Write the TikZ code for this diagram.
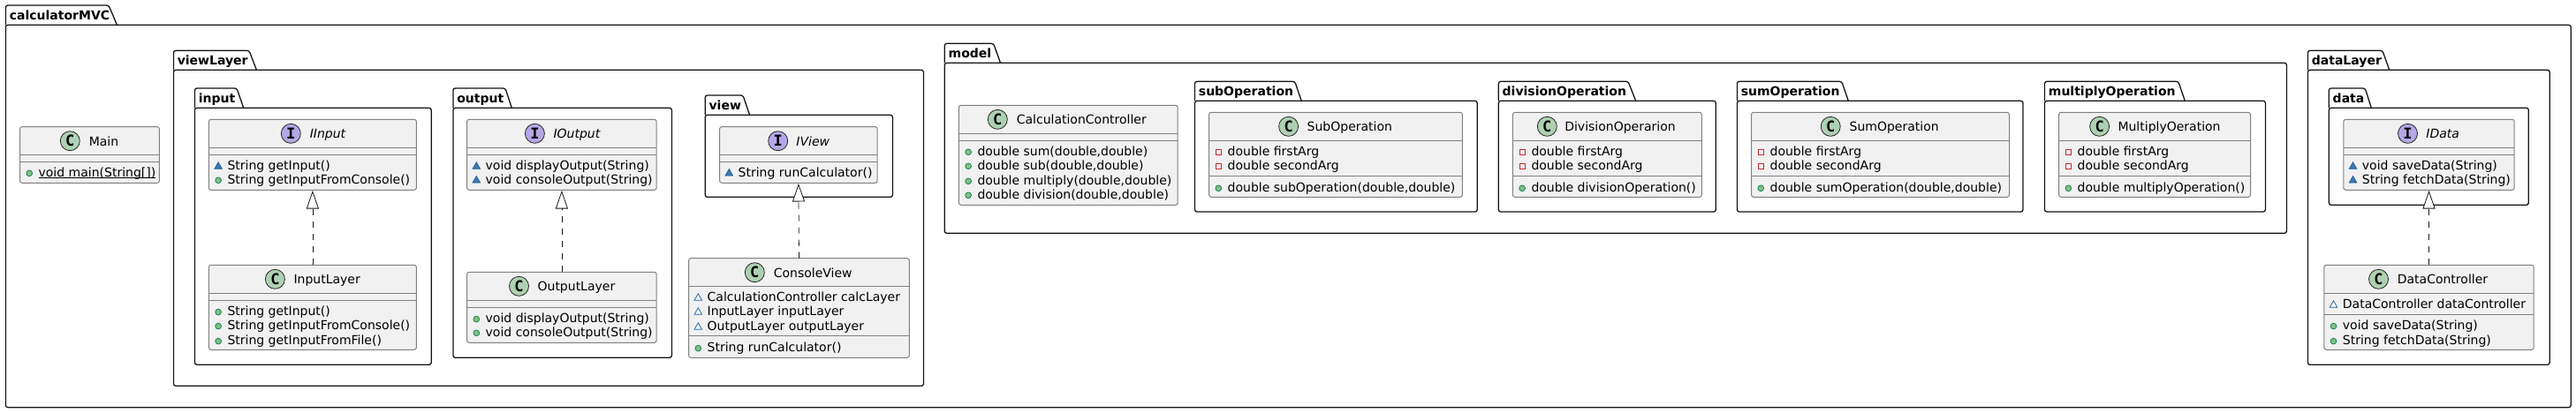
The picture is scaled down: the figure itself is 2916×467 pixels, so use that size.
\documentclass[tikz,border=0pt]{standalone}
\usepackage{fontspec}
\setmainfont{DejaVu Sans}
\newfontfamily\spotfont{DejaVu Sans Mono}
\usetikzlibrary{arrows.meta,shapes.geometric}
\newcounter{rowcnt}

% name, left, top, tab top right, tab bottom right, body top, right, bottom
\newcommand{\umlpackage}[8]{
	\draw[pkgline,rounded corners=1.25pt] (#2,#6) rectangle (#7,#8);
	\draw[pkgline] (#2,#6) [rounded corners=1.25pt] -- (#2,#3) -- (#4,#3) [sharp corners] -- (#5,#6);
	\node[pkglabel] (#1) at (#2+4,#3+16) {#1};
}
% name, left, top, right, bottom, spot x, title x, C or I, title
\newcommand{\umlclass}[9]{
	\pgfmathsetmacro\boxw{(#4-#2)*0.5}
	\pgfmathsetmacro\boxh{(#5-#3)*0.5}
	\node[classbox,minimum width=\boxw pt,minimum height=\boxh pt] (#1) at ({(#2+#4)/2},{(#3+#5)/2}) {};
	\node[spot#8] (#1-spot) at (#6,#3+16) {#8};
	\node[title#8] (#1-title) at (#7,#3+21.3) {#9};
}
% class, y
\newcommand{\umlsep}[2]{
	\draw[classline] (#1.west |- 0,#2) -- (#1.east |- 0,#2);
}
% class, icon style, y, text
\newcommand{\umlrow}[4]{
	\stepcounter{rowcnt}
	\node[#2] (icon\therowcnt) at ([xshift=5.35pt]#1.west |- 0,#3+\csname #2off\endcsname) {};
	\node[rowtext] (row\therowcnt) at ([xshift=10.35pt]#1.west |- 0,#3+5) {#4};
}
% static members: the rule runs close under the baseline
\newcommand{\umlstatic}[1]{\setbox0\hbox{#1}\rlap{\rule[-0.85pt]{\wd0}{0.45pt}}\box0}
\def\pubopoff{1.3}
\def\pkgopoff{1.5}
\def\pkgfoff{1.5}
\def\privfoff{1.3}

\begin{document}
\begin{tikzpicture}[x=0.5pt,y=-0.5pt]
	\tikzstyle{pkgline}=[draw=black!92,line width=0.65pt]
	\tikzstyle{pkglabel}=[anchor=base west,inner sep=0,font=\fontsize{7}{8}\selectfont\bfseries]
	\tikzstyle{classbox}=[draw=black!50,fill=black!5.5,line width=0.5pt,rounded corners=1.25pt,inner sep=0,outer sep=0]
	\tikzstyle{classline}=[draw=black!50,line width=0.5pt]
	\tikzstyle{spotC}=[draw=black!85,fill={rgb,255:red,173;green,209;blue,178},line width=0.4pt,shape=circle,minimum size=11pt,inner sep=0,font=\fontsize{8.5}{9}\selectfont\spotfont\bfseries]
	\tikzstyle{spotI}=[spotC,fill={rgb,255:red,180;green,167;blue,229}]
	\tikzstyle{titleC}=[anchor=base west,inner sep=0,font=\fontsize{7}{8}\selectfont]
	\tikzstyle{titleI}=[titleC,font=\fontsize{7}{8}\selectfont\itshape]
	\tikzstyle{rowtext}=[anchor=base west,inner sep=0,font=\fontsize{7}{8}\selectfont]
	\tikzstyle{pubop}=[shape=circle,draw={rgb,255:red,3;green,128;blue,72},fill={rgb,255:red,132;green,190;blue,132},line width=0.35pt,minimum size=3.4pt,inner sep=0]
	\tikzstyle{pkgop}=[shape=regular polygon,regular polygon sides=3,draw={rgb,255:red,25;green,99;blue,160},fill={rgb,255:red,65;green,119;blue,175},line width=0.35pt,minimum size=5pt,inner sep=0]
	\tikzstyle{pkgf}=[pkgop,fill=none]
	\tikzstyle{privf}=[shape=rectangle,draw={rgb,255:red,200;green,41;blue,48},line width=0.35pt,minimum size=3.2pt,inner sep=0]
	\tikzstyle{impl}=[draw=black!90,line width=0.4pt,dash pattern=on 3.5pt off 3.5pt,shorten >=0.3pt,-{Triangle[open,length=10.3pt,width=7pt,fill=white]}]

	\useasboundingbox (0,0) rectangle (2916,467);

	\umlpackage{calculatorMVC}{6.4}{6}{123}{132.5}{28.3}{2910.2}{461.7}
	\umlpackage{viewLayer}{196.4}{57.3}{282}{290.4}{79.3}{1045.4}{437.3}
	\umlpackage{input}{220.4}{100}{268}{275.7}{122.3}{488.2}{413.3}
	\umlpackage{output}{512.9}{100}{572}{579.3}{122.3}{760.4}{405.3}
	\umlpackage{view}{798.2}{108}{841}{848.6}{130.3}{1010.4}{223.3}
	\umlpackage{model}{1069.3}{49.3}{1124.6}{1132.5}{71.3}{2588.4}{264.3}
	\umlpackage{subOperation}{1352.5}{92.3}{1465.7}{1473.2}{114.3}{1672.2}{240}
	\umlpackage{divisionOperation}{1696.3}{92.3}{1843}{1851.7}{114.3}{1942.3}{240}
	\umlpackage{sumOperation}{1966.4}{92.3}{2084.7}{2092.3}{114.3}{2290}{240}
	\umlpackage{multiplyOperation}{2314.5}{92.3}{2465.8}{2473.3}{114.3}{2564.4}{240}
	\umlpackage{dataLayer}{2612.4}{57.3}{2696.9}{2704.7}{79.3}{2886.2}{413.3}
	\umlpackage{data}{2636.3}{100}{2677.2}{2684.3}{122.3}{2862.3}{232.3}

	\umlclass{Main}{22.5}{143.7}{180.4}{207.3}{79.3}{100.4}{C}{Main}
	\umlsep{Main}{175.3}
	\umlsep{Main}{183.3}
	\umlrow{Main}{pubop}{195}{\umlstatic{void main(String[])}}

	\umlclass{IInput}{236.4}{135.3}{471.4}{215.3}{329.3}{350.4}{I}{IInput}
	\umlsep{IInput}{167.3}
	\umlsep{IInput}{175.3}
	\umlrow{IInput}{pkgop}{187.3}{String getInput()}
	\umlrow{IInput}{pubop}{203}{String getInputFromConsole()}

	\umlclass{InputLayer}{236.4}{300.3}{471.4}{396.3}{311.4}{332.1}{C}{InputLayer}
	\umlsep{InputLayer}{332.3}
	\umlsep{InputLayer}{340.3}
	\umlrow{InputLayer}{pubop}{352.3}{String getInput()}
	\umlrow{InputLayer}{pubop}{368.3}{String getInputFromConsole()}
	\umlrow{InputLayer}{pubop}{385.3}{String getInputFromFile()}

	\umlclass{IOutput}{528.6}{135.3}{743.2}{215.3}{605.4}{626.1}{I}{IOutput}
	\umlsep{IOutput}{167.3}
	\umlsep{IOutput}{175.3}
	\umlrow{IOutput}{pkgop}{187.3}{void displayOutput(String)}
	\umlrow{IOutput}{pkgop}{203}{void consoleOutput(String)}

	\umlclass{OutputLayer}{528.6}{308.3}{743.2}{388.3}{587.5}{608.2}{C}{OutputLayer}
	\umlsep{OutputLayer}{340.3}
	\umlsep{OutputLayer}{348.3}
	\umlrow{OutputLayer}{pubop}{360.3}{void displayOutput(String)}
	\umlrow{OutputLayer}{pubop}{376}{void consoleOutput(String)}

	\umlclass{IView}{814.6}{143.7}{993.2}{207.3}{880.7}{901}{I}{IView}
	\umlsep{IView}{175.3}
	\umlsep{IView}{183.3}
	\umlrow{IView}{pkgop}{195}{String runCalculator()}

	\umlclass{ConsoleView}{779.6}{292.7}{1029.3}{405.3}{854.3}{875.4}{C}{ConsoleView}
	\umlsep{ConsoleView}{324.3}
	\umlsep{ConsoleView}{380.3}
	\umlrow{ConsoleView}{pkgf}{336.3}{CalculationController calcLayer}
	\umlrow{ConsoleView}{pkgf}{352.3}{InputLayer inputLayer}
	\umlrow{ConsoleView}{pkgf}{369.3}{OutputLayer outputLayer}
	\umlrow{ConsoleView}{pubop}{393.3}{String runCalculator()}

	\umlclass{CalculationController}{1085.4}{119.3}{1333.2}{232.3}{1129.3}{1150.4}{C}{CalculationController}
	\umlsep{CalculationController}{151.7}
	\umlsep{CalculationController}{159.7}
	\umlrow{CalculationController}{pubop}{171}{double sum(double,double)}
	\umlrow{CalculationController}{pubop}{187}{double sub(double,double)}
	\umlrow{CalculationController}{pubop}{204}{double multiply(double,double)}
	\umlrow{CalculationController}{pubop}{220}{double division(double,double)}

	\umlclass{SubOperation}{1368.6}{127.3}{1655.3}{223.3}{1458.6}{1479.3}{C}{SubOperation}
	\umlsep{SubOperation}{159.7}
	\umlsep{SubOperation}{199.7}
	\umlrow{SubOperation}{privf}{171}{double firstArg}
	\umlrow{SubOperation}{privf}{187}{double secondArg}
	\umlrow{SubOperation}{pubop}{212}{double subOperation(double,double)}

	\umlclass{DivisionOperarion}{1712.4}{127.3}{1926.3}{223.3}{1751.3}{1770.9}{C}{DivisionOperarion}
	\umlsep{DivisionOperarion}{159.7}
	\umlsep{DivisionOperarion}{199.7}
	\umlrow{DivisionOperarion}{privf}{171}{double firstArg}
	\umlrow{DivisionOperarion}{privf}{187}{double secondArg}
	\umlrow{DivisionOperarion}{pubop}{212}{double divisionOperation()}

	\umlclass{SumOperation}{1982.5}{127.3}{2274.5}{223.3}{2072.2}{2093.2}{C}{SumOperation}
	\umlsep{SumOperation}{159.7}
	\umlsep{SumOperation}{199.7}
	\umlrow{SumOperation}{privf}{171}{double firstArg}
	\umlrow{SumOperation}{privf}{187}{double secondArg}
	\umlrow{SumOperation}{pubop}{212}{double sumOperation(double,double)}

	\umlclass{MultiplyOeration}{2330.6}{127.3}{2547.5}{223.3}{2376.6}{2397.1}{C}{MultiplyOeration}
	\umlsep{MultiplyOeration}{159.7}
	\umlsep{MultiplyOeration}{199.7}
	\umlrow{MultiplyOeration}{privf}{171}{double firstArg}
	\umlrow{MultiplyOeration}{privf}{187}{double secondArg}
	\umlrow{MultiplyOeration}{pubop}{212}{double multiplyOperation()}

	\umlclass{IData}{2652.8}{135.3}{2846.2}{215.3}{2725.5}{2746}{I}{IData}
	\umlsep{IData}{167.3}
	\umlsep{IData}{175.3}
	\umlrow{IData}{pkgop}{187.3}{void saveData(String)}
	\umlrow{IData}{pkgop}{203}{String fetchData(String)}

	\umlclass{DataController}{2630.8}{300.3}{2868.2}{396.3}{2692.5}{2713.4}{C}{DataController}
	\umlsep{DataController}{332.3}
	\umlsep{DataController}{356.3}
	\umlrow{DataController}{pkgf}{344.3}{DataController dataController}
	\umlrow{DataController}{pubop}{368.3}{void saveData(String)}
	\umlrow{DataController}{pubop}{385.3}{String fetchData(String)}

	\draw[impl] (InputLayer.north) -- (IInput.south);
	\draw[impl] (OutputLayer.north) -- (IOutput.south);
	\draw[impl] (ConsoleView.north) -- (IView.south);
	\draw[impl] (DataController.north) -- (IData.south);
\end{tikzpicture}
\end{document}
